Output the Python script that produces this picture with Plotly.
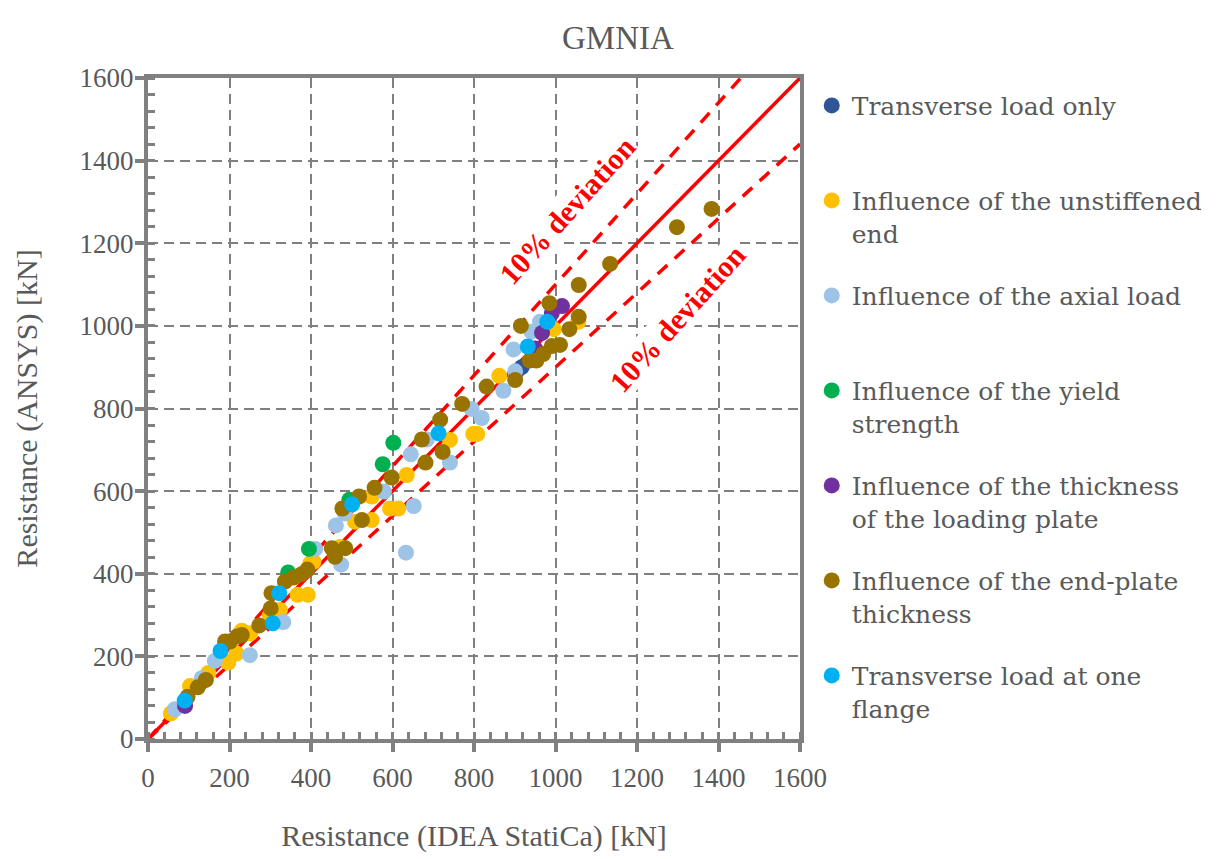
import plotly.graph_objects as go

# ---- data ----
transverse_x = [905, 917]
transverse_y = [890, 900]

unstiffened_x = [56, 103, 148, 197, 217, 230, 251, 299, 308, 324, 367, 392, 398, 406, 471, 508, 549, 549,
                 594, 614, 635, 741, 798, 808, 862, 996, 1056]
unstiffened_y = [62, 128, 160, 185, 207, 262, 256, 300, 312, 312, 349, 349, 425, 429, 465, 526, 530, 587,
                 558, 558, 639, 724, 738, 738, 879, 992, 1010]

axial_x = [66, 132, 164, 250, 332, 410, 474, 461, 483, 579, 633, 652, 645, 684, 741, 794, 819, 872, 901,
           897, 941, 962]
axial_y = [72, 147, 189, 203, 283, 460, 422, 517, 546, 599, 451, 564, 689, 725, 669, 799, 777, 843, 890,
           943, 986, 1010]

yield_x = [344, 395, 494, 576, 602]
yield_y = [403, 460, 579, 665, 717]

plate_x = [91, 950, 967, 991, 1016]
plate_y = [80, 945, 983, 1031, 1048]

endplate_x = [97, 122, 142, 189, 201, 218, 230, 273, 301, 303, 336, 357, 377, 391, 451, 459, 484, 477,
              525, 518, 556, 598, 681, 672, 723, 717, 771, 831, 901, 937, 953, 970, 991, 1011, 915, 1034,
              985, 1057, 1057, 1134, 1298, 1383]
endplate_y = [102, 125, 143, 236, 236, 248, 252, 275, 316, 353, 381, 391, 399, 410, 462, 441, 462, 558,
              530, 587, 608, 633, 669, 725, 695, 773, 811, 853, 869, 916, 916, 932, 951, 954, 1000, 992,
              1055, 1022, 1099, 1150, 1239, 1283]

flange_x = [90, 178, 306, 322, 501, 713, 932, 980]
flange_y = [93, 213, 280, 353, 568, 740, 950, 1010]

line_x = [0, 1600]
deviation = 0.10

series = [
    ("Transverse load only", transverse_x, transverse_y, "#2F5597"),
    ("Influence of the unstiffened<br>end", unstiffened_x, unstiffened_y, "#FFC000"),
    ("Influence of the axial load", axial_x, axial_y, "#9DC3E6"),
    ("Influence of the yield<br>strength", yield_x, yield_y, "#00B050"),
    ("Influence of the thickness<br>of the loading plate", plate_x, plate_y, "#7030A0"),
    ("Influence of the end-plate<br>thickness", endplate_x, endplate_y, "#997300"),
    ("Transverse load at one<br>flange", flange_x, flange_y, "#00B0F0"),
]

FONT = "Liberation Serif"
LFONT = "DejaVu Serif"
GRAY = "#595959"
AX = "#808080"

fig = go.Figure()

# reference lines
fig.add_trace(go.Scatter(x=line_x, y=line_x, mode="lines", line=dict(color="#FF0000", width=3.5),
                         showlegend=False, hoverinfo="skip"))
up_x = [0, line_x[1] / (1 + deviation)]
fig.add_trace(go.Scatter(x=up_x, y=[v * (1 + deviation) for v in up_x], mode="lines",
                         line=dict(color="#FF0000", width=3.5, dash="13px,10px"),
                         showlegend=False, hoverinfo="skip"))
fig.add_trace(go.Scatter(x=line_x, y=[v * (1 - deviation) for v in line_x], mode="lines",
                         line=dict(color="#FF0000", width=3.5, dash="13px,10px"),
                         showlegend=False, hoverinfo="skip"))

for name, xs, ys, col in series:
    label = name if "<br>" in name else name + "<br>\u00a0"
    fig.add_trace(go.Scatter(x=xs, y=ys, mode="markers", name=label, legendgroup=name,
                             marker=dict(color=col, size=16, line=dict(width=0))))

axis_common = dict(
    range=[0, 1600], dtick=200, tick0=0,
    showline=True, linecolor=AX, linewidth=4, mirror=True,
    showgrid=True, gridcolor=AX, gridwidth=2, griddash="10px,6px",
    zeroline=False,
    ticks="outside", ticklen=9, tickwidth=4, tickcolor=AX,
    minor=dict(ticks="inside", dtick=40, ticklen=7, tickwidth=3, tickcolor=AX, showgrid=False),
    tickfont=dict(family=FONT, size=27, color=GRAY),
)

fig.update_xaxes(**axis_common, ticklabelstandoff=3,
                 title=dict(text="Resistance (IDEA StatiCa) [kN]", font=dict(family=FONT, size=30, color=GRAY),
                            standoff=34))
fig.update_yaxes(**axis_common, ticklabelstandoff=-4,
                 title=dict(text="Resistance (ANSYS) [kN]", font=dict(family=FONT, size=30, color=GRAY),
                            standoff=34))

fig.add_annotation(x=1028, y=1280, xref="x", yref="y", text="<b>10% deviation</b>", textangle=-48,
                   showarrow=False, font=dict(family=FONT, size=30, color="#FF0000"), bgcolor="white")
fig.add_annotation(x=1298, y=1019, xref="x", yref="y", text="<b>10% deviation</b>", textangle=-48,
                   showarrow=False, font=dict(family=FONT, size=30, color="#FF0000"), bgcolor="white")

fig.add_annotation(x=0.721, y=1.0605, xref="paper", yref="paper", text="GMNIA", showarrow=False,
                   font=dict(family=FONT, size=33, color=GRAY), xanchor="center", yanchor="middle")

fig.update_layout(
    width=1211, height=851,
    margin=dict(l=140, r=419, t=70, b=120, autoexpand=False),
    plot_bgcolor="white", paper_bgcolor="white",
    legend=dict(x=1.018, y=0.993, xanchor="left", yanchor="top", valign="top",
                font=dict(family=LFONT, size=25, color=GRAY), tracegroupgap=27,
                bgcolor="rgba(0,0,0,0)"),
    showlegend=True,
)

fig.write_html("out.html")
